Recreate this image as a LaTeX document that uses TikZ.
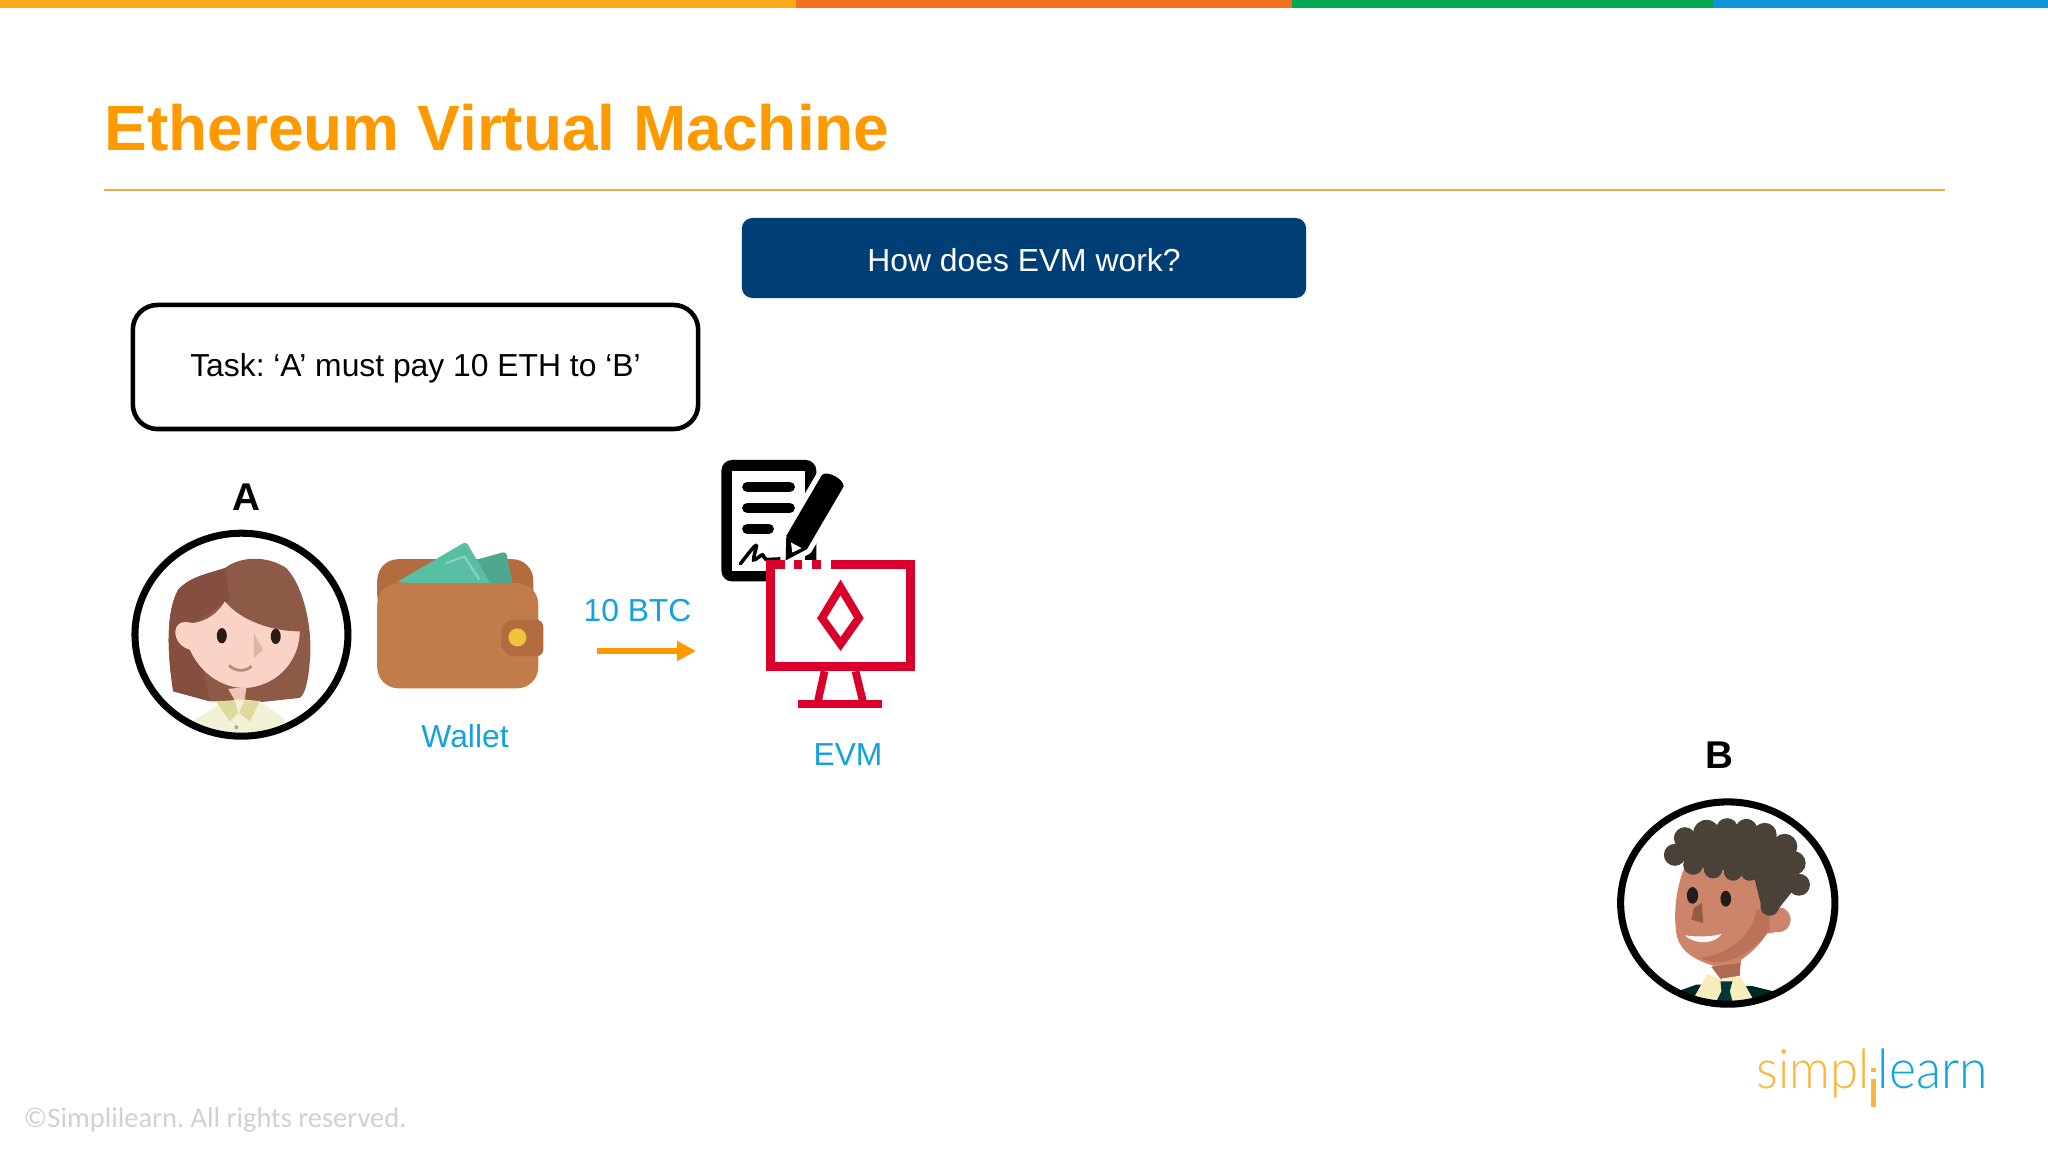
\documentclass[tikz,border=0pt]{standalone}
\usepackage{fontspec}
\setmainfont{Liberation Sans}
\newfontfamily\notefont{Carlito}
\newfontfamily\logofont{Lato Light}
\usetikzlibrary{arrows.meta,calc}
\definecolor{barA}{HTML}{FBA919}
\definecolor{barB}{HTML}{F37021}
\definecolor{barC}{HTML}{00A651}
\definecolor{barD}{HTML}{0F95D8}
\definecolor{titleorange}{HTML}{FF9900}
\definecolor{rulegold}{HTML}{EBB040}
\definecolor{bannerblue}{HTML}{003F76}
\definecolor{labelblue}{HTML}{12A2E2}
\definecolor{evmred}{HTML}{D9002B}
\definecolor{hairw}{HTML}{8C5A47}
\definecolor{hairwdark}{HTML}{844F3E}
\definecolor{facew}{HTML}{FAD3C6}
\definecolor{walletbody}{HTML}{C27C4B}
\definecolor{walletback}{HTML}{B36C40}
\definecolor{moneygreen}{HTML}{58BFA4}
\definecolor{coingold}{HTML}{EFC33C}
\definecolor{hairm}{HTML}{4A4139}
\definecolor{facem}{HTML}{CC846A}
\definecolor{facemdark}{HTML}{BC7259}
\tikzset{
  zoomed/.style={shift={#1},x=0.003333cm,y=-0.003333cm},
  bodytext/.style={font=\fontsize{9.05}{11}\selectfont\frenchspacing},
  bluelabel/.style={bodytext,text=labelblue},
  personlabel/.style={font=\fontsize{11}{13}\selectfont\bfseries},
  ring/.style={draw=black,line width=2pt}
}
\begin{document}
\begin{tikzpicture}[x=0.01cm,y=-0.01cm]
\useasboundingbox (0,0) rectangle (2048,1152);
\fill [white] (0,0) rectangle (2048,1152);
% top bar
\fill [barA] (0,0) rectangle (796,8);
\fill [barB] (796,0) rectangle (1292,8);
\fill [barC] (1292,0) rectangle (1713,8);
\fill [barD] (1713,0) rectangle (2048,8);
% heading
\node (title) [anchor=west,inner sep=0pt,text=titleorange,font=\fontsize{18.2}{20}\selectfont\bfseries] at (104,128) {Ethereum Virtual Machine};
\draw [rulegold,line width=0.5pt] (104,190) -- (1945,190);
\node (banner) [fill=bannerblue,rounded corners=3pt,text=white,bodytext,text height=7.5pt,text depth=0pt,minimum width=5.64cm,minimum height=0.8cm] at (1024,258) {How does EVM work?};
\node (task) [draw=black,line width=1.3pt,rounded corners=7pt,bodytext,text height=7.6pt,text depth=2pt,minimum width=5.65cm,minimum height=1.24cm] at (415.5,367) {Task: ‘A’ must pay 10 ETH to ‘B’};
% person A
\node (labelA) [personlabel] at (246,497) {A};
\begin{scope}[zoomed={(110,450)}]
\begin{scope}
\clip (395,555) ellipse [x radius=320, y radius=305];
\fill [hairw] (190,725) .. controls (170,600) and (170,480) .. (205,420) .. controls (240,380) and (300,370) .. (345,355) .. controls (390,320) and (470,315) .. (530,355) .. controls (590,420) and (610,560) .. (600,640) .. controls (595,700) and (585,735) .. (570,745) -- (430,760) -- (300,755) -- cycle;
\fill [hairwdark] (190,725) .. controls (170,600) and (170,480) .. (205,420) .. controls (240,380) and (300,370) .. (345,355) -- (360,450) -- (250,520) -- (300,755) -- cycle;
\fill [facew] (345,455) .. controls (390,510) and (480,545) .. (570,545) .. controls (570,620) and (520,690) .. (440,710) .. controls (370,730) and (280,690) .. (240,600) .. controls (200,590) and (185,545) .. (205,525) .. controls (220,510) and (240,520) .. (250,520) .. controls (290,515) and (325,490) .. (345,455) -- cycle;
\fill [facew!90!hairw] (355,718) -- (410,712) -- (405,750) -- (375,752) -- cycle;
\fill [white!88!olive] (240,820) -- (320,770) -- (375,750) -- (405,750) -- (450,755) -- (520,805) -- (550,870) -- (240,870) -- cycle;
\fill [olive!30!white] (318,755) -- (375,752) -- (385,790) -- (360,815) -- cycle;
\fill [olive!30!white] (405,752) -- (450,755) -- (420,815) -- (388,790) -- cycle;
\fill [gray!70] (380,833) circle [radius=6];
\fill [black!70!hairw] (336,558) ellipse [x radius=15, y radius=23];
\fill [black!70!hairw] (498,560) ellipse [x radius=15, y radius=23];
\fill [facew!75!hairw] (432,550) -- (460,600) -- (432,625) -- cycle;
\draw [facew!40!hairw,line width=0.8pt] (358,647) .. controls (375,665) and (405,668) .. (425,650);
\end{scope}
\draw [ring] (395,555) ellipse [x radius=320, y radius=305];
% wallet
\fill [walletback,rounded corners=6pt] (803,500) rectangle (1272,328);
\fill [moneygreen!88!black,rounded corners=1pt] (1100,330) -- (1190,305) -- (1210,405) -- (1100,405) -- cycle;
\fill [moneygreen,rounded corners=1pt] (860,398) -- (1070,275) -- (1145,405) -- cycle;
\draw [moneygreen!70!white,line width=0.6pt] (1010,340) -- (1065,320) -- (1110,390);
\fill [walletbody,rounded corners=6pt] (803,716) -- (803,400) -- (1287,400) -- (1287,716) -- cycle;
\fill [walletback,rounded corners=2pt] (1302,510) -- (1302,620) -- (1230,620) .. controls (1195,620) and (1175,595) .. (1175,565) .. controls (1175,535) and (1195,510) .. (1230,510) -- cycle;
\fill [coingold] (1224,563) circle [radius=27];
\end{scope}
\node (wallet) [bluelabel] at (465,736) {Wallet};
% document, pen and monitor
\begin{scope}[zoomed={(570,440)}]
\fill [black,rounded corners=3pt] (455,60) rectangle (740,425);
\fill [white] (487,93) rectangle (707,395);
\draw [line width=3pt,line cap=round] (533,141) -- (660,141);
\draw [line width=3pt,line cap=round] (533,204) -- (660,204);
\draw [line width=3pt,line cap=round] (533,267) -- (597,267);
\draw [line width=1pt,line cap=round,smooth] plot coordinates {(512,372) (545,330) (560,318) (552,360) (578,345) (588,358) (635,357)};
\draw [white,line width=3pt,line join=round] (648,362) -- (650,288) -- (757,105) .. controls (775,90) and (825,120) .. (822,140) -- (712,328) -- cycle;
\fill [black,line join=round] (648,362) -- (650,288) -- (757,105) .. controls (775,90) and (825,120) .. (822,140) -- (712,328) -- cycle;
\fill [white] (664,308) -- (696,325) -- (668,338) -- cycle;
\fill [white] (590,362) rectangle (1035,695);
\draw [evmred,line width=2.5pt] (785,375) -- (1022,375) -- (1022,681) -- (603,681) -- (603,375) -- (645,375);
\draw [evmred,line width=2.5pt] (672,375) -- (698,375);
\draw [evmred,line width=2.5pt] (728,375) -- (755,375);
\draw [evmred,line width=2.3pt] (813,443) -- (868,535) -- (813,613) -- (757,535) -- cycle;
\draw [evmred,line width=2.2pt] (765,695) -- (745,785);
\draw [evmred,line width=2.2pt] (858,695) -- (880,785);
\fill [evmred] (686,780) rectangle (938,806);
\end{scope}
\node (evm) [bluelabel] at (848,755) {EVM};
% transfer
\node (btc) [bluelabel] at (637.5,610.5) {10 BTC};
\coordinate (sendstart) at (597,651);
\coordinate (sendend) at (696,651);
\draw [titleorange,line width=1.8pt,-{Triangle[length=0.19cm,width=0.19cm]}] (sendstart) -- (sendend);
% person B
\node (labelB) [personlabel] at (1719,755) {B};
\begin{scope}[zoomed={(1590,730)}]
\begin{scope}
\clip (414,520) ellipse [x radius=322, y radius=304];
\fill [facem] (540,575) circle [radius=36];
\fill [facem] (565,570) circle [radius=38];
\fill [facem] (290,400) .. controls (265,450) and (250,530) .. (258,600) .. controls (262,660) and (310,690) .. (370,708) -- (365,715) -- (450,715) -- (455,690) .. controls (500,660) and (540,610) .. (560,560) -- (520,380) -- cycle;
\fill [facemdark] (500,540) .. controls (490,610) and (430,670) .. (330,685) .. controls (400,720) and (480,680) .. (540,600) -- (540,540) -- cycle;
\fill [facemdark!92!black] (365,712) -- (452,700) -- (450,740) -- (392,748) -- cycle;
\fill [black!70!teal] (250,790) -- (320,765) -- (490,770) -- (570,790) -- (570,840) -- (250,840) -- cycle;
\fill [yellow!55!brown!30!white] (312,805) -- (352,733) -- (392,748) -- (450,738) -- (488,805) -- (488,840) -- (312,840) -- cycle;
\fill [black!55!teal] (392,755) -- (428,755) -- (420,785) -- (428,815) -- (380,815) -- (395,785) -- cycle;
\foreach \hx/\hy/\hr in {285/325/33,350/310/40,412/298/33,470/300/33,525/315/36,585/350/38,612/400/36,628/465/33,255/375/33,310/405/30,370/418/28,430/425/28,480/425/28,540/530/28}
  \fill [hairm] (\hx,\hy) circle [radius=\hr];
\fill [hairm] (255,375) -- (285,325) -- (525,300) -- (600,370) -- (620,470) -- (560,545) -- (520,550) -- (490,430) -- (310,410) -- cycle;
\fill [black!55!hairm] (308,497) ellipse [x radius=17, y radius=25];
\fill [black!55!hairm] (408,507) ellipse [x radius=16, y radius=24];
\fill [facemdark!80!black] (312,535) -- (336,520) -- (340,580) -- (305,570) -- cycle;
\fill [white!95!facem] (285,617) .. controls (320,622) and (360,622) .. (395,613) .. controls (380,640) and (320,650) .. (285,617) -- cycle;
\end{scope}
\draw [ring] (414,520) ellipse [x radius=322, y radius=304];
\end{scope}
% logo and footer
\node (logoleft) [anchor=base east,inner sep=0pt,text=barA!85!white,font=\fontsize{15.5}{18}\logofont] at (1870,1088) {\scalebox{0.93}[1]{simpl}};
\node (logoright) [anchor=base west,inner sep=0pt,text=barD!85!cyan,font=\fontsize{15.5}{18}\logofont] at (1877,1088) {\scalebox{0.95}[1]{learn}};
\fill [barA!85!white] (1871,1079) rectangle (1876,1107);
\fill [barA!85!white] (1871,1068) rectangle (1876,1072);
\node (copyright) [anchor=west,inner sep=0pt,text=black!18,font=\fontsize{8.1}{10}\notefont\frenchspacing] at (23,1120) {©Simplilearn. All rights reserved.};
\end{tikzpicture}
\end{document}
